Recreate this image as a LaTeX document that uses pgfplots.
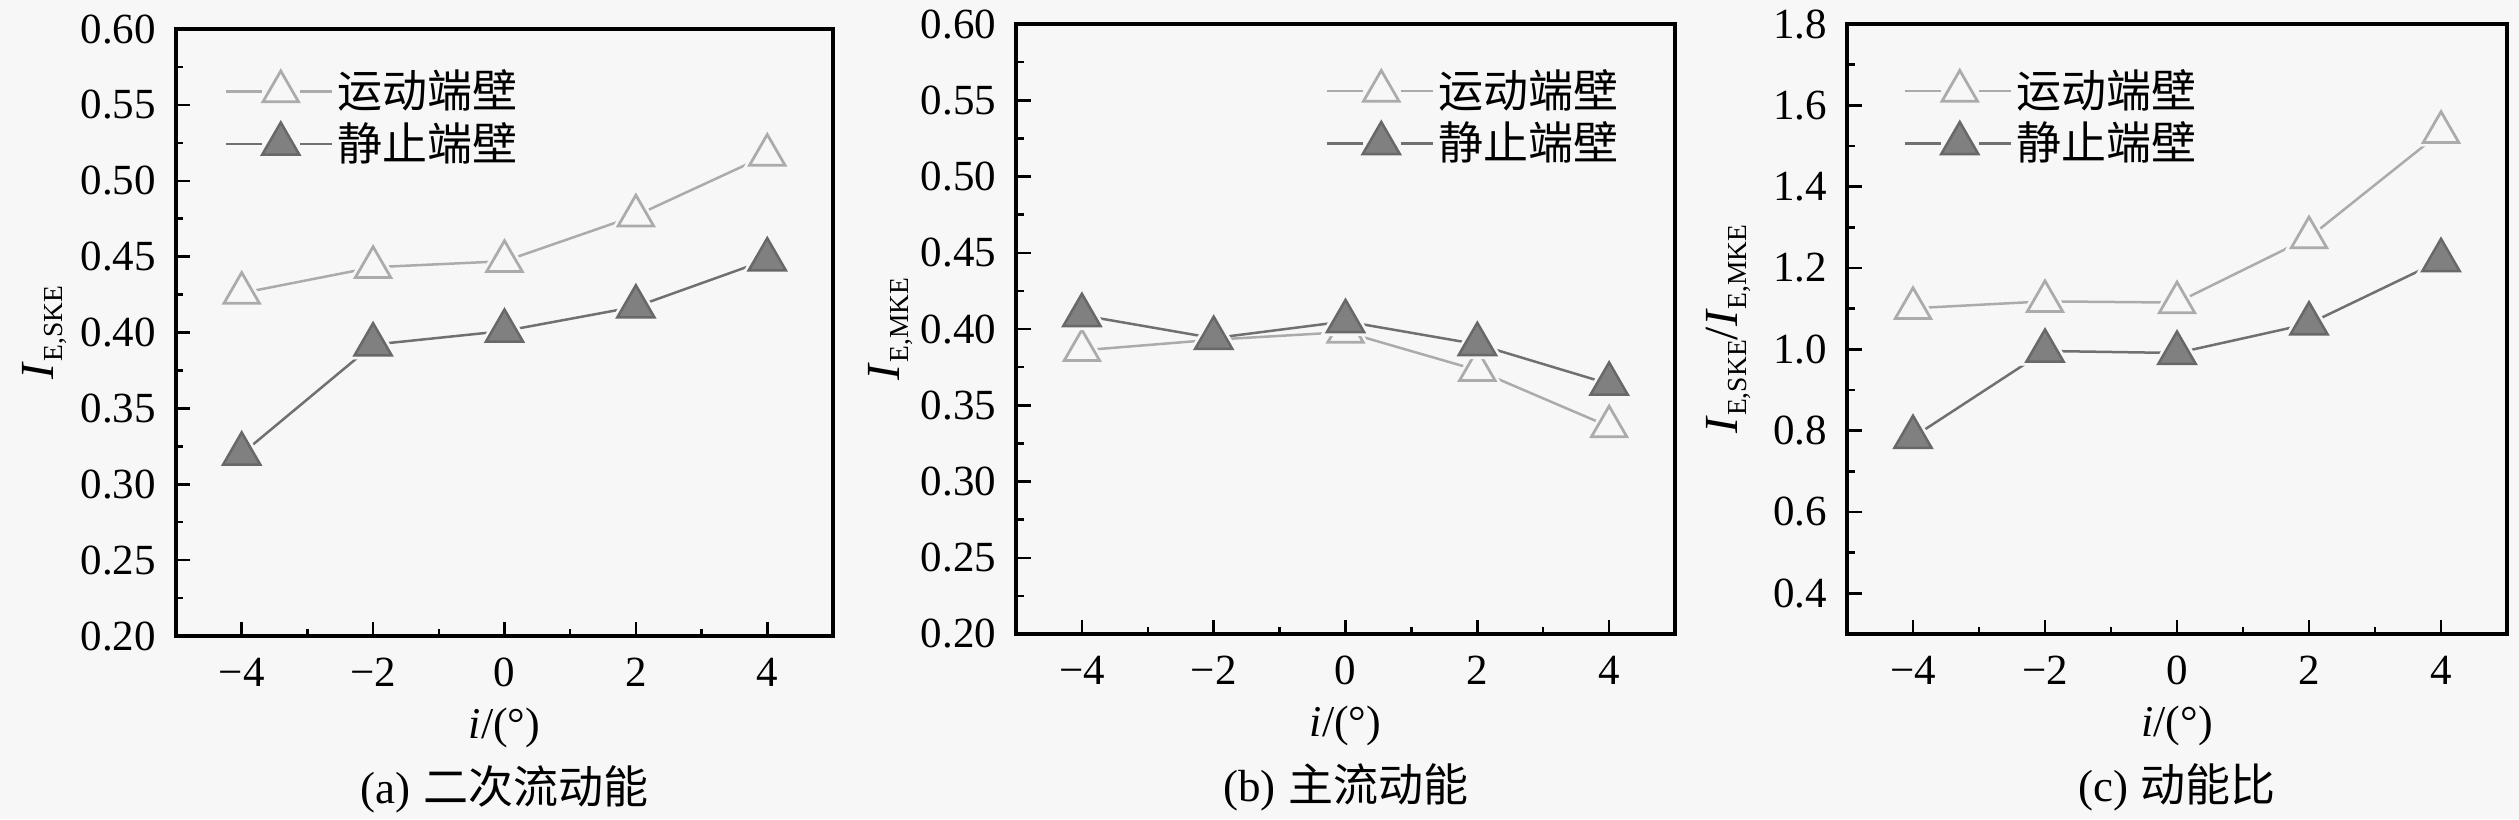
\documentclass[border=0pt]{standalone}
\usepackage{pgfplots}
\usepackage{pgfplotstable}
\pgfplotsset{compat=1.18}
\usepackage{fontspec}
\setmainfont{Liberation Serif}
\newfontfamily\cjk{Noto Sans CJK SC}
\definecolor{bg}{HTML}{F7F7F7}
\definecolor{openc}{HTML}{ABABAB}
\definecolor{fillc}{HTML}{808080}
\definecolor{filld}{HTML}{686868}
\definecolor{fline}{HTML}{707070}
\newcommand{\sub}[1]{\raisebox{-1.7pt}{\fontsize{5.5}{6}\selectfont #1}}
\newcommand{\lbl}{\fontsize{8.6}{10}\selectfont}
\newcommand{\cjt}[1]{{\cjk\fontsize{9}{10}\selectfont #1}}
\newcommand{\II}{{\fontsize{9.5}{10}\selectfont\textit{I}}}

\pgfplotstableread{
x o f
-4 0.426 0.320
-2 0.443 0.392
0 0.447 0.401
2 0.477 0.417
4 0.517 0.448
}\dataA
\pgfplotstableread{
x o f
-4 0.386 0.409
-2 0.393 0.394
0 0.398 0.405
2 0.373 0.390
4 0.336 0.364
}\dataB
\pgfplotstableread{
x o f
-4 1.101 0.784
-2 1.118 0.996
0 1.115 0.991
2 1.275 1.063
4 1.534 1.219
}\dataC

\pgfplotsset{
  myaxis/.style={
    scale only axis, anchor=south west,
    axis line style={line width=0.65pt},
    axis background/.style={fill=bg},
    every tick/.style={black, line width=0.5pt},
    tick align=inside,
    xtick pos=left, ytick pos=left,
    major tick length=2.9pt, minor tick length=1.5pt,
    xmin=-5, xmax=5, xtick={-4,-2,0,2,4}, xticklabels={−4,−2,0,2,4},
    minor x tick num=1, minor y tick num=1,
    tick label style={font=\lbl},
    /pgf/number format/assume math mode=true,
    xticklabel style={inner sep=0pt, anchor=north, yshift=-4.2pt},
    yticklabel style={inner sep=0pt, anchor=east, xshift=-3.8pt},
    xlabel={{\fontsize{8.8}{10}\selectfont\textit{i}/(°)}},
    xlabel style={at={(axis description cs:0.5,0)}, anchor=center, yshift=-18.4pt},
    every axis title/.style={at={(axis description cs:0.5,0)}, anchor=center, yshift=-30.6pt, inner sep=0pt},
    legend style={draw=none, fill=none, inner sep=0pt, outer sep=0pt, row sep=1.3pt,
      column sep=0.8pt, nodes={inner sep=0pt, text height=7.8pt, text depth=1.2pt}},
    legend cell align=left,
    legend image code/.code={
      \path[draw=none,fill=none] (0pt,-4.6pt) -- (0pt,4.6pt);
      \draw[##1,mark=none] (0pt,0pt) -- (7.2pt,0pt);
      \draw[##1,mark=none] (14.8pt,0pt) -- (21.2pt,0pt);
      \draw[##1] plot coordinates {(10.9pt,0pt)};
    },
  },
  openline/.style={openc, line width=0.5pt, mark=none, forget plot},
  openhalo/.style={only marks, mark=triangle*, mark size=5.6pt, mark options={draw=bg, fill=bg, line width=0.1pt}, forget plot},
  openmark/.style={only marks, mark=triangle*, mark size=4.1pt, mark options={draw=openc, fill=bg, line width=0.55pt}, forget plot},
  filline/.style={fline, line width=0.5pt, mark=none, forget plot},
  filhalo/.style={only marks, mark=triangle*, mark size=5.8pt, mark options={draw=bg, fill=bg, line width=0.1pt}, forget plot},
  filmark/.style={only marks, mark=triangle*, mark size=4.3pt, mark options={draw=filld, fill=fillc, line width=0.5pt}, forget plot},
}
\newcommand{\series}[1]{%
  \addplot[openline] table[x=x,y=o]{#1};
  \addplot[openhalo] table[x=x,y=o]{#1};
  \addplot[openmark] table[x=x,y=o]{#1};
  \addplot[filline] table[x=x,y=f]{#1};
  \addplot[filhalo] table[x=x,y=f]{#1};
  \addplot[filmark] table[x=x,y=f]{#1};
  \addlegendimage{openc, line width=0.5pt, mark=triangle*, mark size=4.1pt, mark options={draw=openc, fill=bg, line width=0.55pt}}
  \addlegendentry{\cjt{运动端壁}}
  \addlegendimage{fline, line width=0.5pt, mark=triangle*, mark size=4.3pt, mark options={draw=filld, fill=fillc, line width=0.5pt}}
  \addlegendentry{\cjt{静止端壁}}
}

\begin{document}
\begin{tikzpicture}
\fill[bg] (0,0) rectangle (503.8pt,163.8pt);
\useasboundingbox (0,0) rectangle (503.8pt,163.8pt);

\begin{axis}[myaxis, at={(35.2pt,36.6pt)}, width=131.4pt, height=121.4pt,
  ymin=0.2, ymax=0.6, ytick={0.2,0.25,0.3,0.35,0.4,0.45,0.5,0.55,0.6},
  yticklabel style={/pgf/number format/fixed, /pgf/number format/fixed zerofill, /pgf/number format/precision=2},
  ylabel={\II\sub{E,SKE}},
  ylabel style={at={(axis description cs:-0.200,0.5)}, anchor=center},
  title={{\fontsize{9}{10}\selectfont (a)} \cjt{二次流动能}},
  legend style={at={(axis description cs:0.0746,0.935)}, anchor=north west},
]
\series{\dataA}
\end{axis}

\begin{axis}[myaxis, at={(203.2pt,37pt)}, width=131.8pt, height=122pt,
  ymin=0.2, ymax=0.6, ytick={0.2,0.25,0.3,0.35,0.4,0.45,0.5,0.55,0.6},
  yticklabel style={/pgf/number format/fixed, /pgf/number format/fixed zerofill, /pgf/number format/precision=2},
  ylabel={\II\sub{E,MKE}},
  ylabel style={at={(axis description cs:-0.190,0.5)}, anchor=center},
  title={{\fontsize{9}{10}\selectfont (b)} \cjt{主流动能}},
  legend style={at={(axis description cs:0.9135,0.928)}, anchor=north east},
]
\series{\dataB}
\end{axis}

\begin{axis}[myaxis, at={(369.4pt,37pt)}, width=132pt, height=122pt,
  ymin=0.3, ymax=1.8, ytick={0.4,0.6,0.8,1.0,1.2,1.4,1.6,1.8},
  yticklabel style={/pgf/number format/fixed, /pgf/number format/fixed zerofill, /pgf/number format/precision=1},
  ylabel={\II\sub{E,SKE}{\fontsize{9.5}{10}\selectfont/}\II\sub{E,MKE}},
  ylabel style={at={(axis description cs:-0.180,0.5)}, anchor=center},
  title={{\fontsize{9}{10}\selectfont (c)} \cjt{动能比}},
  legend style={at={(axis description cs:0.0864,0.928)}, anchor=north west},
]
\series{\dataC}
\end{axis}
\end{tikzpicture}
\end{document}
